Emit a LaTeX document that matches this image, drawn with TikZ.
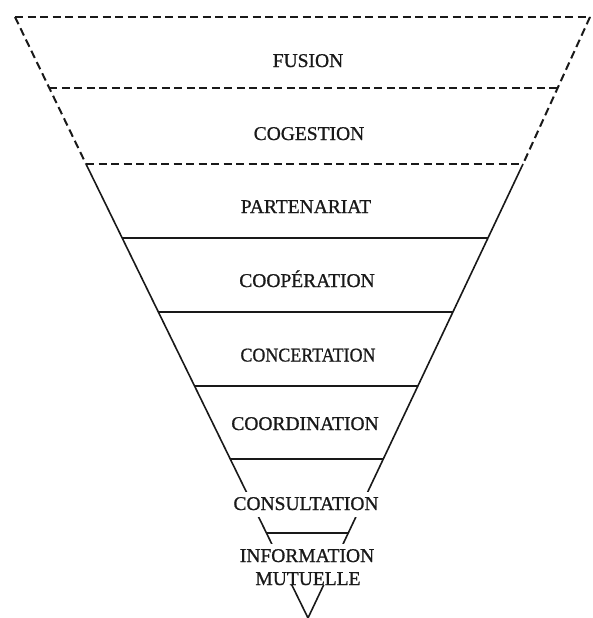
\documentclass[tikz,border=0pt]{standalone}
\usepackage{fontspec}
\usepackage{graphicx}
\setmainfont{Liberation Serif}
\newfontfamily\lblfont[FakeBold=0.9]{Liberation Serif}
\tikzset{
  dashln/.style={line width=2pt, draw=black!90, dash pattern=on 8pt off 4.5pt},
  solidln/.style={line width=1.6pt, draw=black!90, line join=miter},
  lbl/.style={font=\lblfont\fontsize{19.5}{23}\selectfont, inner sep=0pt, anchor=base, text=black!90},
  lblw/.style={lbl, fill=white, inner xsep=2pt, inner ysep=0pt}
}
\begin{document}
\begin{tikzpicture}[x=1pt,y=-1pt]
\useasboundingbox (0,0) rectangle (592,618);
% corner points
\coordinate (L0) at (15,17);   \coordinate (R0) at (590,17);
\coordinate (L1) at (49.3,88); \coordinate (R1) at (558,88);
\coordinate (L2) at (86,164);  \coordinate (R2) at (523,164);
\coordinate (L3) at (122.2,238); \coordinate (R3) at (488,238);
\coordinate (L4) at (158.4,312); \coordinate (R4) at (452.9,312);
\coordinate (L5) at (194.6,386); \coordinate (R5) at (417.9,386);
\coordinate (L6) at (230.3,459); \coordinate (R6) at (383.3,459);
\coordinate (L7) at (266.4,533); \coordinate (R7) at (348.2,533);
\coordinate (T)  at (308,618);
% dashed upper part
\draw[dashln] (L0) -- (R0);
\draw[dashln] (L1) -- (R1);
\draw[dashln] (L2) -- (R2);
\draw[dashln] (L0) -- (L2);
\draw[dashln] (R0) -- (R2);
% solid lower part
\draw[solidln] (L2) -- (T) -- (R2);
\draw[solidln] (L3) -- (R3);
\draw[solidln] (L4) -- (R4);
\draw[solidln] (L5) -- (R5);
\draw[solidln] (L6) -- (R6);
\draw[solidln] (L7) -- (R7);
% labels
\node[lbl] (fusion) at (308,67) {FUSION};
\node[lbl] (coge) at (309,140) {COGESTION};
\node[lbl] (part) at (306,213) {PARTENARIAT};
\node[lbl] (coop) at (307,287) {COOPÉRATION};
\node[lbl] (conc) at (308,361.5) {\scalebox{0.92}[1]{CONCERTATION}};
\node[lbl] (coor) at (305,430) {COORDINATION};
\node[lblw, text height=18pt, text depth=7pt] (cons) at (306,510) {CONSULTATION};
\node[lblw, text height=18pt, text depth=6pt] (info) at (307,562) {INFORMATION};
\node[lblw, text height=17pt, text depth=0pt] (mutu) at (308,585) {MUTUELLE};
\end{tikzpicture}
\end{document}
